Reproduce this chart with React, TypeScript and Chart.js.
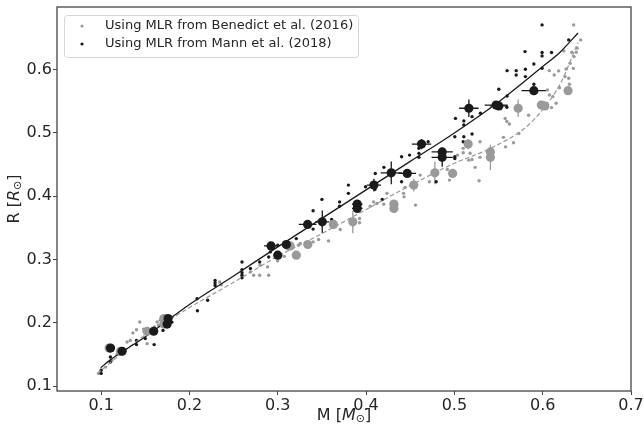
import React, { useEffect, useRef } from "react";
import { Chart, registerables } from "chart.js";

Chart.register(...registerables);

// ---------- data ----------
const X_TICKS = [0.1, 0.2, 0.3, 0.4, 0.5, 0.6, 0.7];
const Y_TICKS = [0.1, 0.2, 0.3, 0.4, 0.5, 0.6];
const LEGEND_LABELS = [
  "Using MLR from Benedict et al. (2016)",
  "Using MLR from Mann et al. (2018)",
];

// small dots, Benedict et al. (2016)
const benedictSmall: [number, number][] = [
  [0.097, 0.12], [0.105, 0.13], [0.112, 0.14], [0.118, 0.15], [0.126, 0.158],
  [0.1294, 0.1696], [0.133, 0.172], [0.136, 0.184], [0.14, 0.189], [0.1437, 0.2013],
  [0.152, 0.167], [0.148, 0.19], [0.1603, 0.1934], [0.1634, 0.2013], [0.167, 0.204],
  [0.1716, 0.2092], [0.165, 0.196], [0.2342, 0.2646], [0.236, 0.26], [0.269, 0.2804],
  [0.2727, 0.2752], [0.2795, 0.2752], [0.2897, 0.2752], [0.2885, 0.2883], [0.28, 0.291],
  [0.2998, 0.2978], [0.3074, 0.305], [0.3105, 0.3174], [0.315, 0.3226], [0.3235, 0.3226],
  [0.3255, 0.3253], [0.34, 0.3278], [0.3462, 0.3316], [0.3575, 0.3294], [0.3708, 0.3475],
  [0.3926, 0.3649], [0.3926, 0.358], [0.4047, 0.3843], [0.4085, 0.391], [0.4123, 0.3886],
  [0.42, 0.3875], [0.4236, 0.4045], [0.4424, 0.4045], [0.4443, 0.414], [0.443, 0.399],
  [0.456, 0.386], [0.4613, 0.4334], [0.4718, 0.4228], [0.492, 0.4424], [0.4944, 0.4255],
  [0.5035, 0.465], [0.51, 0.4687], [0.51, 0.4756], [0.5164, 0.457], [0.5178, 0.468],
  [0.52, 0.458], [0.5235, 0.4456], [0.528, 0.4244], [0.529, 0.486], [0.529, 0.4614],
  [0.5555, 0.493], [0.5575, 0.523], [0.5594, 0.518], [0.5623, 0.514], [0.558, 0.478],
  [0.567, 0.4845], [0.573, 0.499], [0.584, 0.528], [0.6053, 0.568], [0.6076, 0.56],
  [0.6115, 0.5574], [0.6152, 0.547], [0.61, 0.54], [0.619, 0.5715], [0.6303, 0.577],
  [0.6075, 0.5984], [0.618, 0.598], [0.613, 0.5916], [0.6265, 0.601], [0.6347, 0.602],
  [0.6253, 0.589], [0.631, 0.61], [0.624, 0.6296], [0.633, 0.6275], [0.638, 0.6275],
  [0.6355, 0.6206], [0.639, 0.634], [0.643, 0.647], [0.635, 0.6707], [0.6295, 0.5864],
];

// small dots, Mann et al. (2018)
const mannSmall: [number, number][] = [
  [0.1, 0.12], [0.1, 0.125], [0.1105, 0.138], [0.1105, 0.146], [0.14, 0.1655],
  [0.14, 0.172], [0.15, 0.175], [0.15, 0.188], [0.16, 0.1655], [0.16, 0.19],
  [0.17, 0.188], [0.18, 0.201], [0.209, 0.219], [0.2086, 0.238], [0.2206, 0.2356],
  [0.229, 0.259], [0.229, 0.263], [0.229, 0.267], [0.2595, 0.271], [0.2595, 0.275],
  [0.2595, 0.279], [0.2595, 0.284], [0.2595, 0.296], [0.269, 0.2857], [0.2795, 0.296],
  [0.2897, 0.304], [0.2916, 0.312], [0.3, 0.3226], [0.321, 0.333], [0.34, 0.348],
  [0.34, 0.377], [0.35, 0.395], [0.361, 0.3633], [0.37, 0.391], [0.37, 0.3843],
  [0.38, 0.4176], [0.38, 0.4045], [0.3994, 0.4149], [0.4183, 0.395], [0.41, 0.4108],
  [0.4104, 0.436], [0.4202, 0.4456], [0.4402, 0.4623], [0.4402, 0.4228], [0.4492, 0.465],
  [0.4598, 0.4756], [0.4598, 0.4677], [0.4598, 0.4614], [0.4703, 0.486], [0.4794, 0.4228],
  [0.5005, 0.494], [0.5005, 0.436], [0.5005, 0.4623], [0.5005, 0.4597], [0.5012, 0.523],
  [0.5107, 0.519], [0.5107, 0.5125], [0.5107, 0.494], [0.51, 0.486], [0.52, 0.4983],
  [0.52, 0.5257], [0.5295, 0.531], [0.5503, 0.569], [0.5594, 0.5405], [0.5597, 0.5584],
  [0.5597, 0.5984], [0.57, 0.5984], [0.57, 0.5916], [0.5804, 0.6006], [0.5804, 0.589],
  [0.58, 0.6285], [0.59, 0.609], [0.59, 0.577], [0.5993, 0.6707], [0.5993, 0.627],
  [0.5993, 0.6217], [0.5993, 0.6022], [0.61, 0.627], [0.6295, 0.647],
];

// large points with error bars: [x, y, xerr, yerr]
const mannBig: [number, number, number, number][] = [
  [0.1106, 0.16, 0, 0], [0.1237, 0.155, 0.005, 0.002], [0.1595, 0.1866, 0.004, 0.004],
  [0.1747, 0.198, 0.003, 0.006], [0.1758, 0.2066, 0.003, 0.004], [0.2924, 0.3215, 0.008, 0.005],
  [0.3, 0.3068, 0.004, 0.004], [0.3097, 0.3237, 0.005, 0.003], [0.3338, 0.3554, 0.01, 0.004],
  [0.3504, 0.3595, 0.008, 0.018], [0.39, 0.3875, 0.006, 0.006], [0.39, 0.3807, 0.006, 0.006],
  [0.4089, 0.4176, 0.008, 0.01], [0.4285, 0.437, 0.012, 0.018], [0.4466, 0.436, 0.01, 0.004],
  [0.4628, 0.4824, 0.011, 0.008], [0.4862, 0.47, 0.012, 0.006], [0.4862, 0.4614, 0.012, 0.015],
  [0.5164, 0.539, 0.011, 0.014], [0.5473, 0.544, 0.013, 0.004], [0.5503, 0.5426, 0.01, 0.003],
  [0.59, 0.5668, 0.014, 0.005],
];
const benedictBig: [number, number, number, number][] = [
  [0.109, 0.16, 0, 0], [0.122, 0.155, 0.002, 0.002], [0.152, 0.1866, 0.002, 0.004],
  [0.171, 0.198, 0.002, 0.006], [0.171, 0.2066, 0.002, 0.004], [0.314, 0.3215, 0.003, 0.005],
  [0.321, 0.3068, 0.002, 0.004], [0.334, 0.3237, 0.002, 0.003], [0.363, 0.3554, 0.003, 0.004],
  [0.385, 0.3595, 0.003, 0.018], [0.4315, 0.3875, 0.003, 0.006], [0.4315, 0.3807, 0.003, 0.006],
  [0.454, 0.4176, 0.003, 0.01], [0.4779, 0.437, 0.003, 0.018], [0.498, 0.436, 0.003, 0.004],
  [0.5156, 0.4824, 0.003, 0.008], [0.5408, 0.47, 0.003, 0.006], [0.5408, 0.4614, 0.003, 0.02],
  [0.5722, 0.539, 0.003, 0.014], [0.5985, 0.544, 0.003, 0.004], [0.6024, 0.5426, 0.003, 0.003],
  [0.6287, 0.5668, 0.003, 0.005],
];

// fitted relations
const mannLineX = [0.0995, 0.11, 0.15, 0.2, 0.25, 0.3, 0.35, 0.4, 0.45, 0.5, 0.55, 0.6, 0.62, 0.64];
const mannLineY = [0.129, 0.141, 0.178, 0.229, 0.274, 0.32, 0.365, 0.41, 0.455, 0.5, 0.549, 0.605, 0.628, 0.658];
const benedictLineX = [0.0955, 0.12, 0.15, 0.18, 0.2, 0.25, 0.3, 0.35, 0.4, 0.45, 0.5, 0.54, 0.58, 0.6, 0.62, 0.64];
const benedictLineY = [0.12, 0.148, 0.181, 0.207, 0.224, 0.264, 0.305, 0.341, 0.379, 0.417, 0.452, 0.475, 0.508, 0.537, 0.578, 0.643];

// ---------- styles ----------
const BLACK = "#1a1a1a";
const GRAY = "#9a9a9a";
const FONT = "DejaVu Sans";

const pts = (a: number[][]) => a.map((p) => ({ x: p[0], y: p[1] }));
const linePts = (xs: number[], ys: number[]) => xs.map((x, i) => ({ x, y: ys[i] }));

const overlayPlugin = {
  id: "overlay",
  beforeDatasetsDraw(chart: any) {
    const ctx = chart.ctx;
    const xs = chart.scales.x;
    const ys = chart.scales.y;
    const drawErr = (arr: number[][], color: string) => {
      ctx.save();
      ctx.strokeStyle = color;
      ctx.lineWidth = 1.3;
      arr.forEach(([x, y, xe, ye]) => {
        const px = xs.getPixelForValue(x);
        const py = ys.getPixelForValue(y);
        ctx.beginPath();
        if (xe > 0) {
          ctx.moveTo(xs.getPixelForValue(x - xe), py);
          ctx.lineTo(xs.getPixelForValue(x + xe), py);
        }
        if (ye > 0) {
          ctx.moveTo(px, ys.getPixelForValue(y - ye));
          ctx.lineTo(px, ys.getPixelForValue(y + ye));
        }
        ctx.stroke();
      });
      ctx.restore();
    };
    drawErr(benedictBig, GRAY);
    drawErr(mannBig, BLACK);
  },
  afterDraw(chart: any) {
    const ctx = chart.ctx;
    const a = chart.chartArea;
    ctx.save();
    // spines
    ctx.strokeStyle = "#444";
    ctx.lineWidth = 1.3;
    ctx.strokeRect(a.left, a.top, a.right - a.left, a.bottom - a.top);

    // legend
    const lx = a.left + 7, ly = a.top + 8, lw = 294, lh = 42;
    ctx.fillStyle = "rgba(255,255,255,0.8)";
    ctx.strokeStyle = "#d6d6d6";
    ctx.lineWidth = 1;
    ctx.beginPath();
    if (ctx.roundRect) ctx.roundRect(lx + 0.5, ly + 0.5, lw, lh, 3);
    else ctx.rect(lx + 0.5, ly + 0.5, lw, lh);
    ctx.fill();
    ctx.stroke();
    const colors = [GRAY, BLACK];
    ctx.font = `13px "${FONT}"`;
    ctx.textBaseline = "middle";
    LEGEND_LABELS.forEach((t, i) => {
      const cy = ly + 11 + i * 18;
      ctx.fillStyle = colors[i];
      ctx.beginPath();
      ctx.arc(lx + 18, cy, 1.6, 0, Math.PI * 2);
      ctx.fill();
      ctx.fillStyle = "#262626";
      ctx.fillText(t, lx + 41, cy);
    });

    // axis titles with italic symbol and subscript
    const drawTitle = (sym: string, cx: number, cy: number, rotate: boolean) => {
      const size = 16;
      const parts = [
        { t: sym + " [", f: `${size}px "${FONT}"`, dy: 0 },
        { t: sym, f: `italic ${size}px "${FONT}"`, dy: 0 },
        { t: "\u2299", f: `${Math.round(size * 0.7)}px "${FONT}"`, dy: 3 },
        { t: "]", f: `${size}px "${FONT}"`, dy: 0 },
      ];
      let w = 0;
      parts.forEach((p) => { ctx.font = p.f; w += ctx.measureText(p.t).width; });
      ctx.save();
      ctx.translate(cx, cy);
      if (rotate) ctx.rotate(-Math.PI / 2);
      ctx.fillStyle = "#262626";
      ctx.textBaseline = "middle";
      ctx.textAlign = "left";
      let x = -w / 2;
      parts.forEach((p) => {
        ctx.font = p.f;
        ctx.fillText(p.t, x, p.dy);
        x += ctx.measureText(p.t).width;
      });
      ctx.restore();
    };
    drawTitle("M", (a.left + a.right) / 2, 416, false);
    drawTitle("R", 15, (a.top + a.bottom) / 2, true);
    ctx.restore();
  },
};

export default function App() {
  const ref = useRef<HTMLCanvasElement | null>(null);
  useEffect(() => {
    document.body.style.margin = "0";
    document.body.style.overflow = "hidden";
    const canvas = ref.current!;
    const chart = new Chart(canvas, {
      type: "scatter",
      data: {
        datasets: [
          {
            label: LEGEND_LABELS[0],
            data: pts(benedictSmall),
            backgroundColor: GRAY,
            borderWidth: 0,
            pointRadius: 1.7,
            order: 6,
          } as any,
          {
            label: LEGEND_LABELS[1],
            data: pts(mannSmall),
            backgroundColor: BLACK,
            borderWidth: 0,
            pointRadius: 1.7,
            order: 5,
          },
          {
            type: "line",
            data: linePts(benedictLineX, benedictLineY),
            borderColor: GRAY,
            borderWidth: 1.2,
            borderDash: [4.5, 2.5],
            pointRadius: 0,
            showLine: true,
            cubicInterpolationMode: "monotone",
            fill: false,
            order: 4,
          },
          {
            type: "line",
            data: linePts(mannLineX, mannLineY),
            borderColor: BLACK,
            borderWidth: 1.3,
            pointRadius: 0,
            showLine: true,
            cubicInterpolationMode: "monotone",
            fill: false,
            order: 3,
          },
          {
            data: pts(benedictBig),
            backgroundColor: GRAY,
            borderWidth: 0,
            pointRadius: 4.6,
            order: 2,
          },
          {
            data: pts(mannBig),
            backgroundColor: BLACK,
            borderWidth: 0,
            pointRadius: 4.6,
            order: 1,
          },
        ],
      },
      options: {
        responsive: false,
        animation: false,
        events: [],
        layout: { padding: { left: 0, right: 13, top: 7, bottom: 0 } },
        plugins: { legend: { display: false }, tooltip: { enabled: false }, title: { display: false } },
        scales: {
          x: {
            type: "linear",
            min: 0.05,
            max: 0.7,
            afterBuildTicks: (s: any) => { s.ticks = X_TICKS.map((v) => ({ value: v })); },
            afterFit: (s: any) => { s.height = 40; s.paddingLeft = 0; s.paddingRight = 0; },
            ticks: {
              font: { family: FONT, size: 16 },
              color: "#262626",
              padding: 1,
              autoSkip: false,
              maxRotation: 0,
              callback: (v: any) => Number(v).toFixed(1),
            },
            grid: { drawOnChartArea: false, drawTicks: true, tickLength: 4, color: "#444", tickWidth: 1 },
            border: { display: false },
          },
          y: {
            type: "linear",
            min: 0.0922,
            max: 0.699,
            afterBuildTicks: (s: any) => { s.ticks = Y_TICKS.map((v) => ({ value: v })); },
            afterFit: (s: any) => { s.width = 57; s.paddingTop = 0; s.paddingBottom = 0; },
            ticks: {
              font: { family: FONT, size: 16 },
              color: "#262626",
              padding: 1,
              autoSkip: false,
              callback: (v: any) => Number(v).toFixed(1),
            },
            grid: { drawOnChartArea: false, drawTicks: true, tickLength: 4, color: "#444", tickWidth: 1 },
            border: { display: false },
          },
        },
      } as any,
      plugins: [overlayPlugin],
    });
    return () => chart.destroy();
  }, []);
  return <canvas ref={ref} width={644} height={431} style={{ display: "block" }} />;
}
